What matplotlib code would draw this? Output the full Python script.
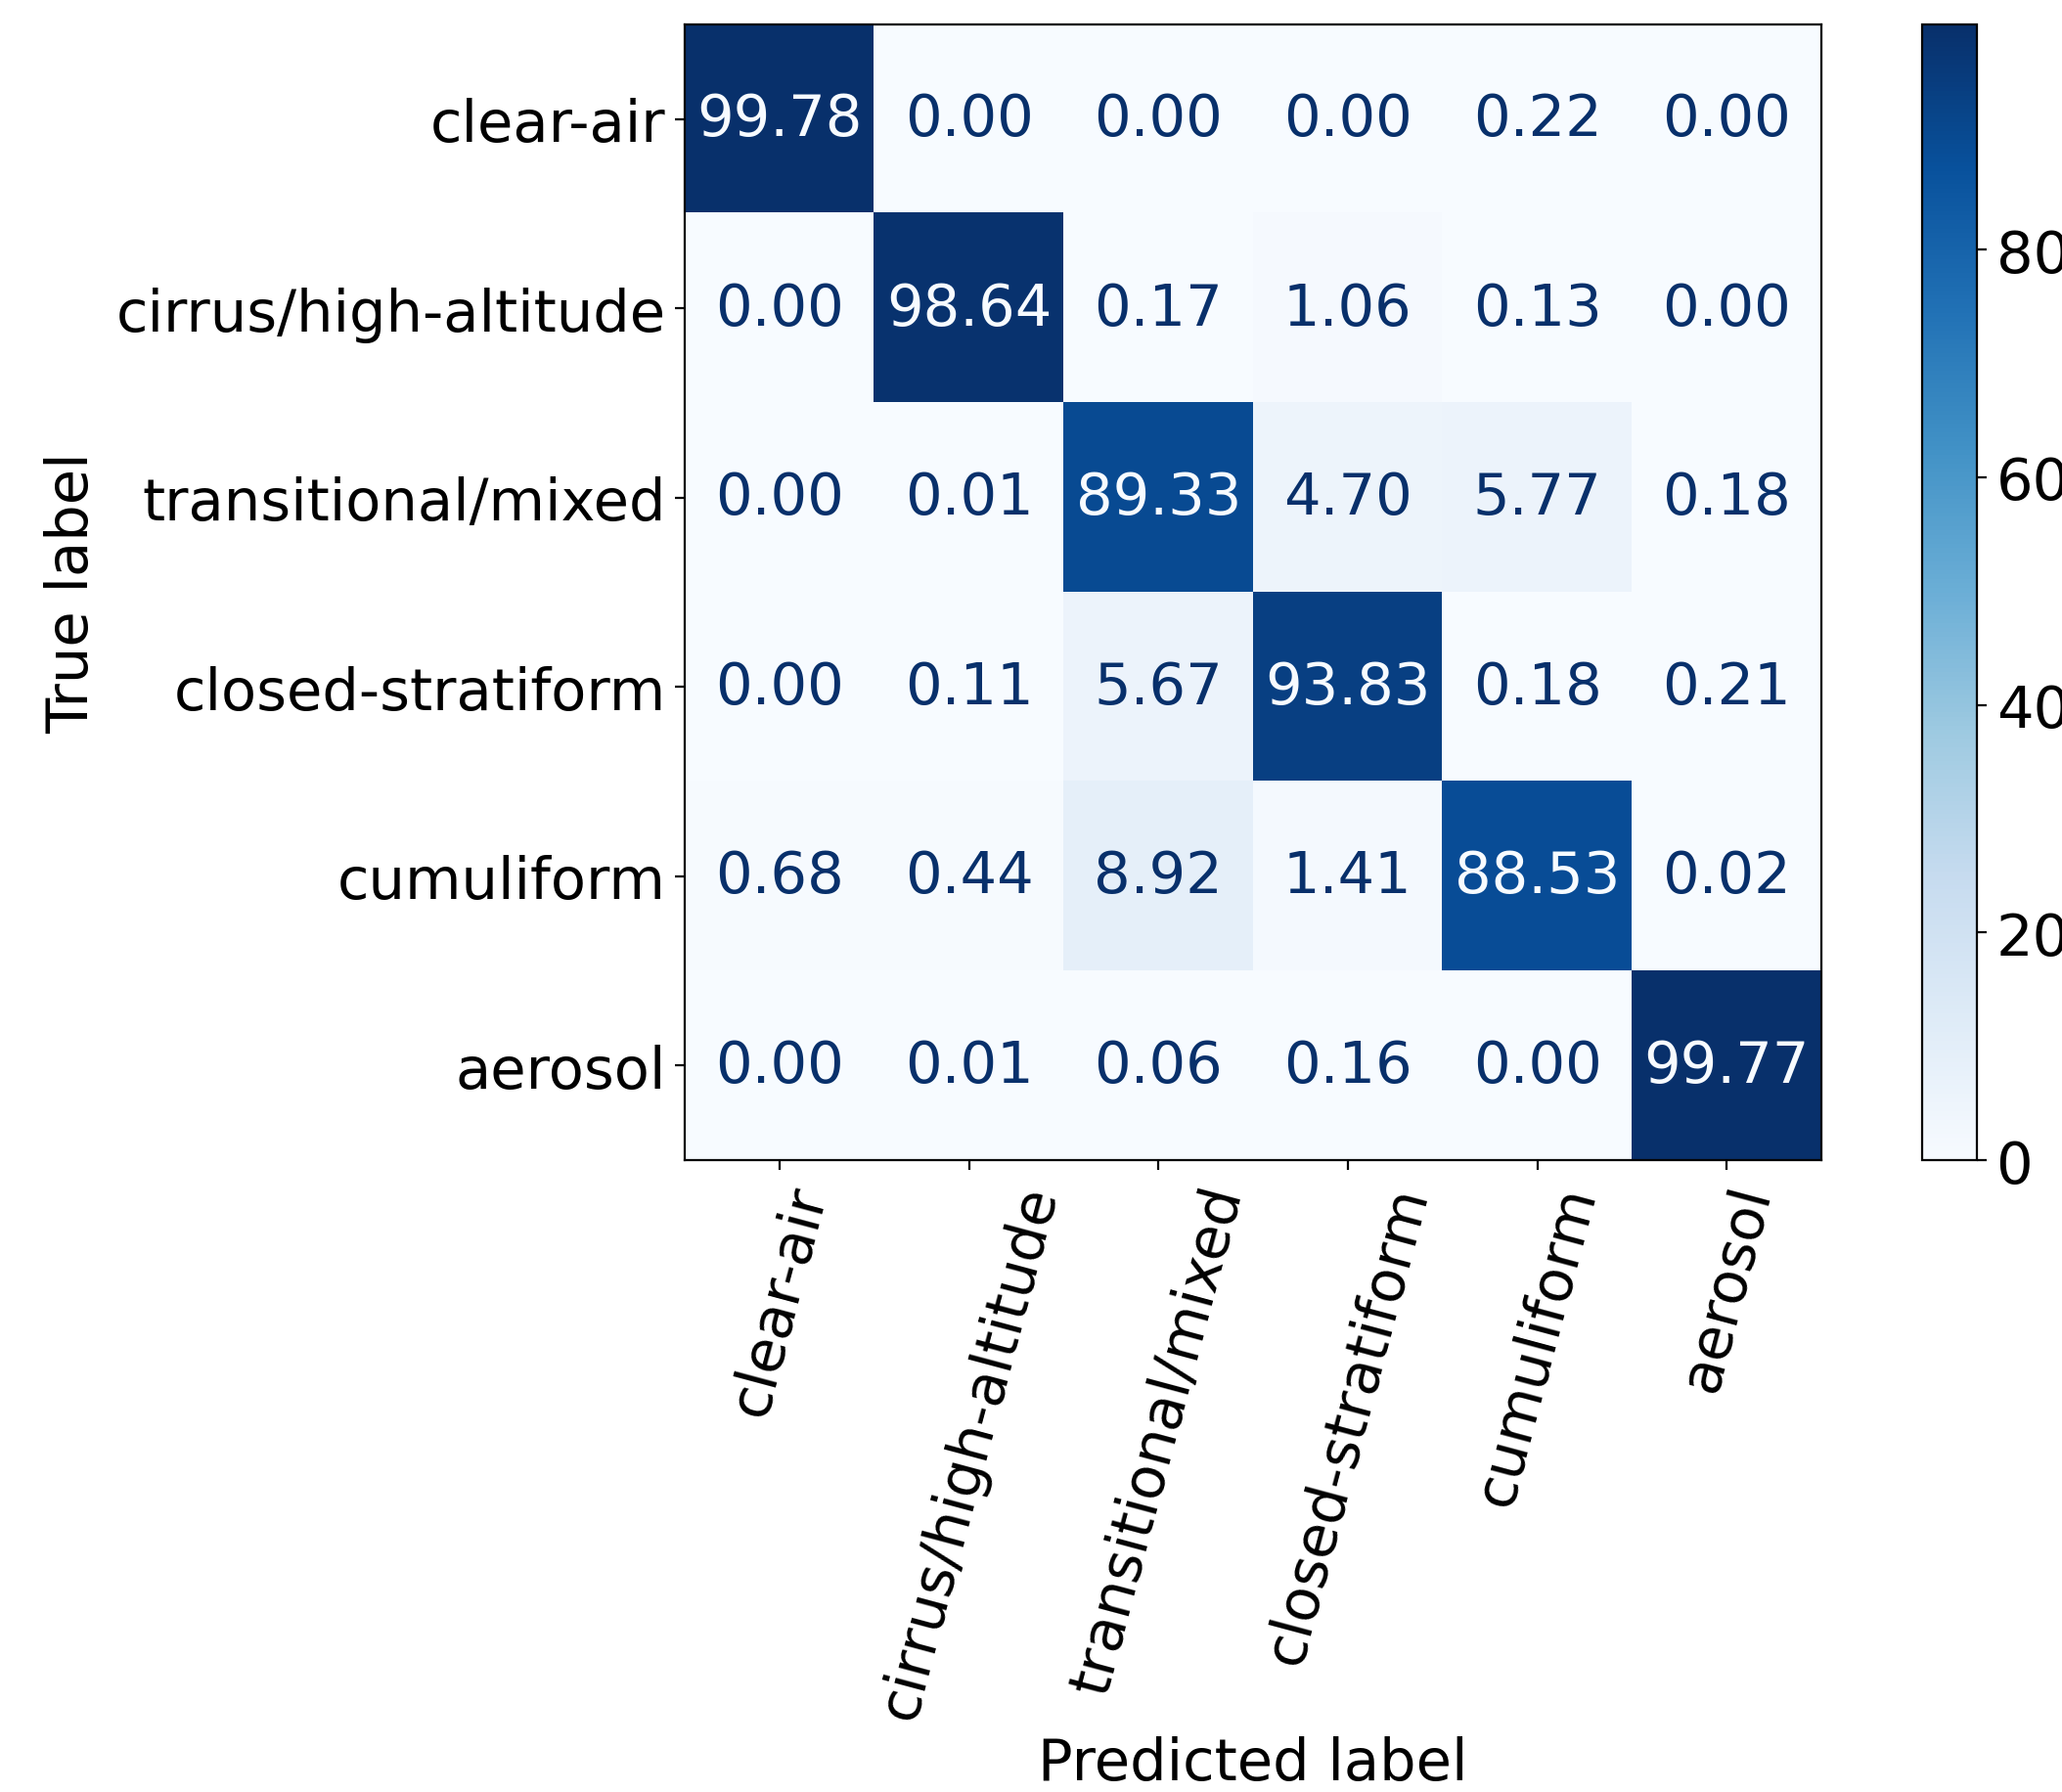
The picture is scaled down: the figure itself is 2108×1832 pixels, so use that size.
import numpy as np
import matplotlib

matplotlib.use("Agg")
import matplotlib.pyplot as plt

LABELS = ["clear-air", "cirrus/high-altitude", "transitional/mixed",
          "closed-stratiform", "cumuliform", "aerosol"]

ROW_CLEAR_AIR = [99.78, 0.00, 0.00, 0.00, 0.22, 0.00]
ROW_CIRRUS = [0.00, 98.64, 0.17, 1.06, 0.13, 0.00]
ROW_TRANSITIONAL = [0.00, 0.01, 89.33, 4.70, 5.77, 0.18]
ROW_CLOSED = [0.00, 0.11, 5.67, 93.83, 0.18, 0.21]
ROW_CUMULIFORM = [0.68, 0.44, 8.92, 1.41, 88.53, 0.02]
ROW_AEROSOL = [0.00, 0.01, 0.06, 0.16, 0.00, 99.77]

CBAR_TICKS = [0, 20, 40, 60, 80]

FONT_SIZE = 21.3

cm = np.array([ROW_CLEAR_AIR, ROW_CIRRUS, ROW_TRANSITIONAL,
               ROW_CLOSED, ROW_CUMULIFORM, ROW_AEROSOL])

plt.rcParams["font.size"] = FONT_SIZE

fig = plt.figure(figsize=(10.54, 9.165), dpi=200)
ax = fig.add_axes([0.3321, 0.3524, 0.5512, 0.6334])
cax = fig.add_axes([0.9322, 0.3524, 0.0266, 0.6334])

cmap = plt.get_cmap("Blues")
im = ax.imshow(cm, cmap=cmap, interpolation="nearest", aspect="auto",
               vmin=cm.min(), vmax=cm.max())

# sklearn-style text colouring: light text on dark cells
thresh = (cm.max() + cm.min()) / 2.0
for i in range(cm.shape[0]):
    for j in range(cm.shape[1]):
        color = cmap(0.0) if cm[i, j] >= thresh else cmap(1.0)
        ax.text(j, i, f"{cm[i, j]:.2f}", ha="center", va="center",
                color=color, fontsize=FONT_SIZE)

ax.set_xticks(np.arange(len(LABELS)))
ax.set_yticks(np.arange(len(LABELS)))
ax.set_xticklabels(LABELS, rotation=75, ha="center")
ax.set_yticklabels(LABELS)
ax.set_xlabel("Predicted label")
ax.set_ylabel("True label", labelpad=6)

cbar = fig.colorbar(im, cax=cax)
cbar.set_ticks(CBAR_TICKS)

fig.savefig("out.png", dpi=200)
